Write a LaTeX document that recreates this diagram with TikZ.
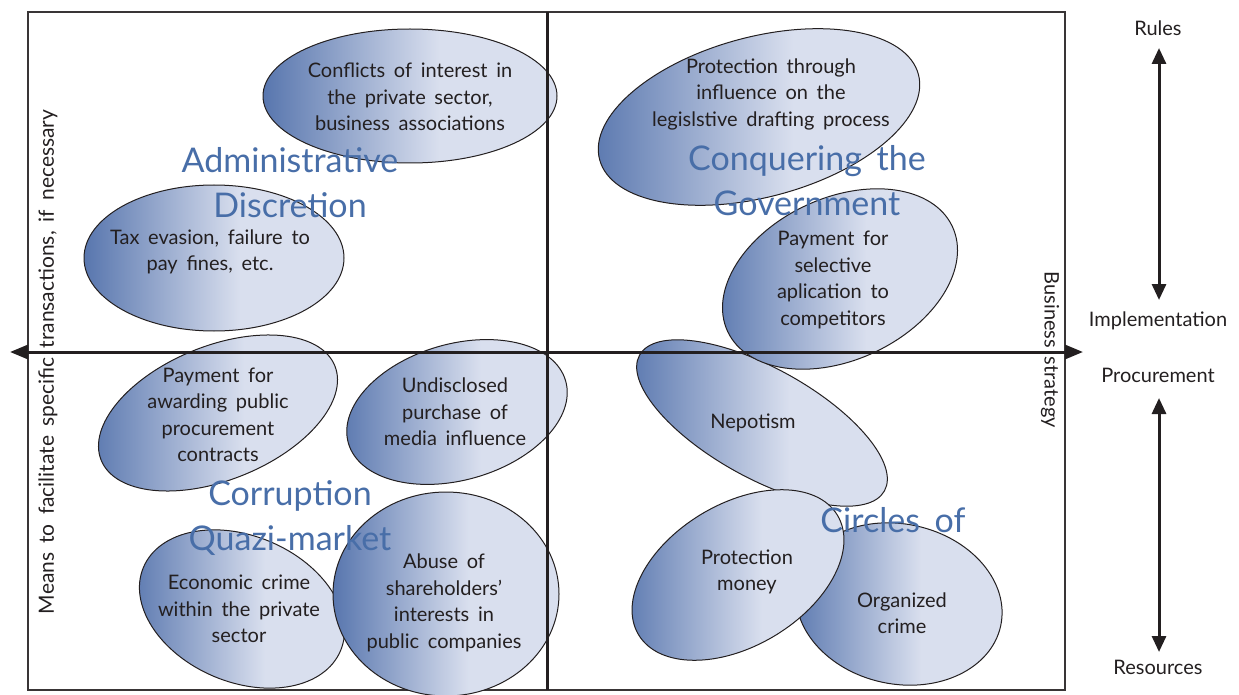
\documentclass[tikz,border=0pt]{standalone}
\usepackage{fontspec}
\setmainfont{Lato}[WordSpace=1.7]
\usetikzlibrary{arrows.meta}

\definecolor{ovdark}{RGB}{88,118,174}
\definecolor{ovlight}{RGB}{217,223,238}
\definecolor{headblue}{RGB}{72,110,168}
\definecolor{ink}{RGB}{35,31,32}

% horizontal fill of the ovals: dark on the left, light from about 60% on
\pgfdeclarehorizontalshading{ovalfill}{100bp}{color(0bp)=(ovdark); color(25bp)=(ovdark); color(55bp)=(ovlight); color(100bp)=(ovlight)}

\tikzset{
  oval/.style={shading=ovalfill, draw=ink, line width=1pt},
  ovaltext/.style={align=center, font=\fontsize{20}{26.5}\selectfont, text=ink, inner sep=0pt},
  heading/.style={align=center, font=\fontsize{34}{45}\selectfont, text=headblue, inner sep=0pt},
  sidelabel/.style={font=\fontsize{20}{22}\selectfont, text=ink, inner sep=0pt},
  frameline/.style={draw=ink!90, line width=2pt},
  axisline/.style={draw=ink, line width=3pt},
  axisarrow/.style={draw=ink, line width=3pt, {Triangle[length=18pt,width=14pt]}-{Triangle[length=18pt,width=14pt]}},
  scalearrow/.style={draw=ink, line width=3pt, {Triangle[length=16pt,width=14pt]}-{Triangle[length=16pt,width=14pt]}},
}

% \ovalshape{cx}{cy}{x radius}{y radius}{angle}
\newcommand{\ovalshape}[5]{%
  \begin{scope}[shift={(#1,#2)}, rotate=#5]
    \shadedraw[oval] (0,0) ellipse [x radius=#3pt, y radius=#4pt];
  \end{scope}}

\begin{document}
\begin{tikzpicture}[x=1pt, y=-1pt]
  \useasboundingbox (0,0) rectangle (1239,695);

  % outer frame
  \draw[frameline] (28,12) rectangle (1065,690);

  % ovals
  \ovalshape{410}{96}{147}{67}{0}
  \ovalshape{214}{258}{130}{73}{0}
  \ovalshape{759}{117}{165}{80}{15}
  \ovalshape{762}{423}{140}{55}{-29}
  \ovalshape{840}{279}{124}{81}{25}
  \ovalshape{218}{413}{126}{67}{22}
  \ovalshape{457}{412}{113}{68}{16}
  \ovalshape{242}{609}{107}{73}{-23}
  \ovalshape{446}{594}{113}{102}{0}
  \ovalshape{899}{604}{104}{80}{-12}
  \ovalshape{738}{575}{116}{71}{31}

  % axes
  \coordinate (divT) at (547,12);
  \coordinate (divB) at (547,690);
  \coordinate (axL) at (10,352);
  \coordinate (axR) at (1083,352);
  \draw[axisline] (divT) -- (divB);
  \draw[axisarrow] (axL) -- (axR);

  % oval texts
  \node[ovaltext] (conflicts) at (410,97) {Conflicts of interest in\\the private sector,\\business associations};
  \node[ovaltext] (tax) at (210,252) {Tax evasion, failure to\\pay fines, etc.};
  \node[ovaltext] (legis) at (771,94) {Protection through\\influence on the\\legislstive drafting process};
  \node[ovaltext] (selective) at (833,280) {Payment for\\selective\\aplication to\\competitors};
  \node[ovaltext] (awarding) at (218,415) {Payment for\\awarding public\\procurement\\contracts};
  \node[ovaltext] (media) at (455,412) {Undisclosed\\purchase of\\media influence};
  \node[ovaltext] (economic) at (239,609) {Economic crime\\within the private\\sector};
  \node[ovaltext] (abuse) at (444,603) {Abuse of\\shareholders’\\interests in\\public companies};
  \node[ovaltext] (nepotism) at (753,423) {Nepotism};
  \node[ovaltext] (money) at (747,572) {Protection\\money};
  \node[ovaltext] (organized) at (902,613) {Organized\\crime};

  % quadrant headings
  \node[heading] (admin) at (290,183) {Administrative\\Discretion};
  \node[heading] (conquer) at (807,181) {Conquering the\\Government};
  \node[heading] (quazi) at (290,518) {Corruption\\Quazi-market};
  \node[heading] (circles) at (893,520) {Circles of};

  % axis labels
  \node[sidelabel, font=\fontsize{21}{22}\selectfont, rotate=90] (means) at (48,362) {Means to facilitate specific transactions, if necessary};
  \node[sidelabel, rotate=-90] (strategy) at (1050,350) {Business strategy};

  % right-hand scale
  \node[sidelabel] (rules) at (1158,28) {Rules};
  \node[sidelabel] (impl) at (1158,321) {Implementation};
  \node[sidelabel] (proc) at (1158,375) {Procurement};
  \node[sidelabel] (res) at (1158,667) {Resources};
  \coordinate (r1) at (1159,48);
  \coordinate (r2) at (1159,300);
  \coordinate (r3) at (1159,398);
  \coordinate (r4) at (1159,652);
  \draw[scalearrow] (r1) -- (r2);
  \draw[scalearrow] (r3) -- (r4);
\end{tikzpicture}
\end{document}
